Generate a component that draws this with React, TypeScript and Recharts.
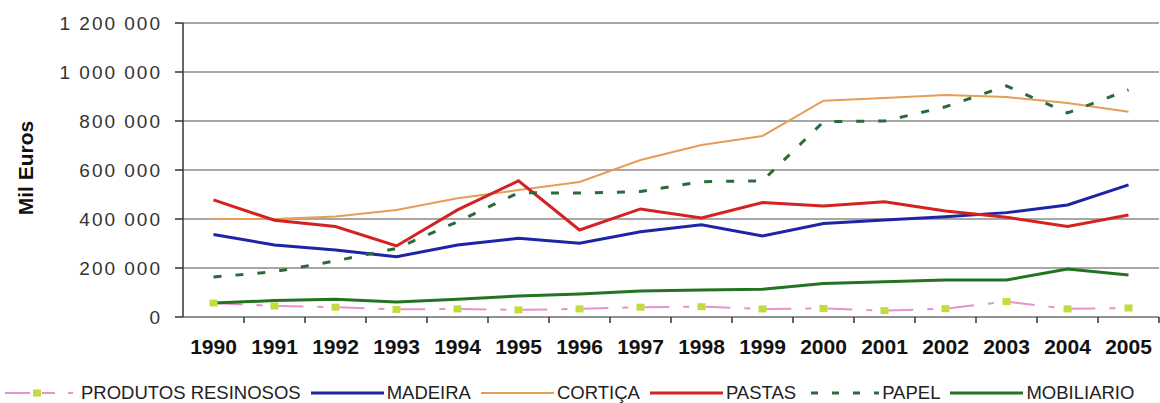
import React from "react";
import {
  LineChart,
  Line,
  XAxis,
  YAxis,
  CartesianGrid,
  Legend,
} from "recharts";

const years = [
  "1990", "1991", "1992", "1993", "1994", "1995", "1996", "1997",
  "1998", "1999", "2000", "2001", "2002", "2003", "2004", "2005",
];

// Mil Euros
const resinosos = [57000, 45000, 40000, 31000, 33000, 29000, 33000, 40000, 42000, 33000, 35000, 26000, 34000, 63000, 33000, 37000];
const madeira = [337000, 294000, 273000, 246000, 294000, 321000, 301000, 348000, 376000, 331000, 382000, 396000, 409000, 426000, 457000, 539000];
const cortica = [400000, 400000, 410000, 437000, 485000, 518000, 551000, 641000, 702000, 739000, 883000, 894000, 906000, 898000, 873000, 838000];
const pastas = [478000, 395000, 369000, 290000, 437000, 556000, 355000, 441000, 404000, 467000, 453000, 470000, 433000, 407000, 369000, 416000];
const papel = [163000, 185000, 229000, 280000, 389000, 507000, 506000, 512000, 552000, 556000, 797000, 800000, 858000, 943000, 833000, 927000];
const mobiliario = [57000, 67000, 72000, 61000, 72000, 86000, 94000, 106000, 110000, 113000, 137000, 144000, 151000, 151000, 196000, 171000];

const yTicks = [0, 200000, 400000, 600000, 800000, 1000000, 1200000];

const seriesOrder = ["resinosos", "madeira", "cortica", "pastas", "papel", "mobiliario"];

const data = years.map((year, i) => ({
  year,
  resinosos: resinosos[i],
  madeira: madeira[i],
  cortica: cortica[i],
  pastas: pastas[i],
  papel: papel[i],
  mobiliario: mobiliario[i],
}));

const W = 1160;
const H = 403;
const Y_W = 183;
const M_RIGHT = 1;
const HALF_BAND = (W - Y_W - M_RIGHT) / years.length / 2;

const colors = {
  resinosos: "#e990cf",
  marker: "#c4db3e",
  madeira: "#1d25a6",
  cortica: "#e69d55",
  pastas: "#d42222",
  papel: "#2b6b3a",
  mobiliario: "#237323",
};

const font = '"Liberation Sans", Arial, sans-serif';

const fmt = (v: number) =>
  String(v).replace(/\B(?=(\d{3})+(?!\d))/g, " ");

function YearTick(props: any) {
  const { x, y, payload } = props;
  const axisY = y - 6;
  return (
    <g>
      <line
        x1={x + HALF_BAND}
        x2={x + HALF_BAND}
        y1={axisY}
        y2={axisY + 6}
        stroke="#333"
        strokeWidth={1.5}
      />
      <text
        x={x}
        y={axisY + 37}
        textAnchor="middle"
        fontFamily={font}
        fontWeight="bold"
        fontSize={21}
        fill="#111"
      >
        {payload.value}
      </text>
    </g>
  );
}

function SquareDot(props: any) {
  const { cx, cy } = props;
  if (cx == null || cy == null) return null;
  return <rect x={cx - 4} y={cy - 3.5} width={8} height={7} fill={colors.marker} />;
}

function YLabel(props: any) {
  const { viewBox } = props;
  const cy = viewBox.y + viewBox.height / 2 - 2;
  const cx = 25;
  return (
    <text
      x={cx}
      y={cy}
      transform={`rotate(-90, ${cx}, ${cy})`}
      textAnchor="middle"
      dominantBaseline="central"
      fontFamily={font}
      fontWeight="bold"
      fontSize={21}
      fill="#111"
    >
      Mil Euros
    </text>
  );
}

function LegendIcon({ k }: { k: string }) {
  if (k === "resinosos") {
    return (
      <svg width={73} height={20}>
        <line x1={0} x2={25} y1={10} y2={10} stroke={colors.resinosos} strokeWidth={2} />
        <rect x={28} y={6.5} width={8} height={7} fill={colors.marker} />
        <line x1={37} x2={50} y1={10} y2={10} stroke={colors.resinosos} strokeWidth={2} />
        <line x1={63} x2={68} y1={10} y2={10} stroke={colors.resinosos} strokeWidth={2} />
      </svg>
    );
  }
  if (k === "papel") {
    return (
      <svg width={73} height={20}>
        <line x1={5} x2={73} y1={10} y2={10} stroke={colors.papel} strokeWidth={3} strokeDasharray="7 14" />
      </svg>
    );
  }
  const w = k === "cortica" ? 2 : 3;
  return (
    <svg width={73} height={20}>
      <line x1={0} x2={73} y1={10} y2={10} stroke={(colors as any)[k]} strokeWidth={w} />
    </svg>
  );
}

function renderLegend(props: any) {
  const items = [...props.payload].sort(
    (a: any, b: any) => seriesOrder.indexOf(a.dataKey) - seriesOrder.indexOf(b.dataKey)
  );
  return (
    <div
      style={{
        display: "flex",
        alignItems: "center",
        gap: 10,
        paddingLeft: 5,
        paddingTop: 3,
        fontFamily: font,
        fontSize: 18.5,
        color: "#222",
        lineHeight: "22px",
      }}
    >
      {items.map((p: any) => (
        <div key={p.dataKey} style={{ display: "flex", alignItems: "center" }}>
          <LegendIcon k={p.dataKey} />
          <span style={{ marginLeft: 3 }}>{p.value}</span>
        </div>
      ))}
    </div>
  );
}

export default function App() {
  return (
    <div style={{ width: W, height: H, background: "#fff", overflow: "hidden" }}>
      <style>{"body{margin:0;background:#fff}"}</style>
      <LineChart
        width={W}
        height={H}
        data={data}
        margin={{ top: 23, right: M_RIGHT, bottom: 0, left: 0 }}
      >
        <CartesianGrid vertical={false} stroke="#8a8a8a" strokeWidth={1.5} />
        <XAxis
          dataKey="year"
          scale="band"
          interval={0}
          height={62}
          tickLine={false}
          tickSize={6}
          tickMargin={0}
          axisLine={{ stroke: "#8a8a8a", strokeWidth: 1.5 }}
          tick={<YearTick />}
        />
        <YAxis
          width={Y_W}
          domain={[0, 1200000]}
          ticks={yTicks}
          interval={0}
          tickFormatter={fmt}
          tickSize={8}
          tickMargin={13}
          axisLine={{ stroke: "#333", strokeWidth: 1.5 }}
          tickLine={{ stroke: "#333", strokeWidth: 1.5 }}
          tick={{ fontFamily: font, fontSize: 19, fill: "#333", letterSpacing: 2 }}
          label={<YLabel />}
        />
        <Legend
          verticalAlign="bottom"
          align="left"
          height={24}
          itemSorter={null as any}
          content={renderLegend}
        />
        <Line
          name="PRODUTOS RESINOSOS"
          dataKey="resinosos"
          stroke={colors.resinosos}
          strokeWidth={2}
          strokeDasharray="25 14 6 16"
          strokeDashoffset={-4}
          dot={<SquareDot />}
          activeDot={false}
          isAnimationActive={false}
        />
        <Line
          name="MADEIRA"
          dataKey="madeira"
          stroke={colors.madeira}
          strokeWidth={3}
          dot={false}
          activeDot={false}
          isAnimationActive={false}
        />
        <Line
          name="CORTIÇA"
          dataKey="cortica"
          stroke={colors.cortica}
          strokeWidth={2}
          dot={false}
          activeDot={false}
          isAnimationActive={false}
        />
        <Line
          name="PASTAS"
          dataKey="pastas"
          stroke={colors.pastas}
          strokeWidth={3}
          dot={false}
          activeDot={false}
          isAnimationActive={false}
        />
        <Line
          name="PAPEL"
          dataKey="papel"
          stroke={colors.papel}
          strokeWidth={3}
          strokeDasharray="8 14"
          dot={false}
          activeDot={false}
          isAnimationActive={false}
        />
        <Line
          name="MOBILIARIO"
          dataKey="mobiliario"
          stroke={colors.mobiliario}
          strokeWidth={3}
          dot={false}
          activeDot={false}
          isAnimationActive={false}
        />
      </LineChart>
    </div>
  );
}
